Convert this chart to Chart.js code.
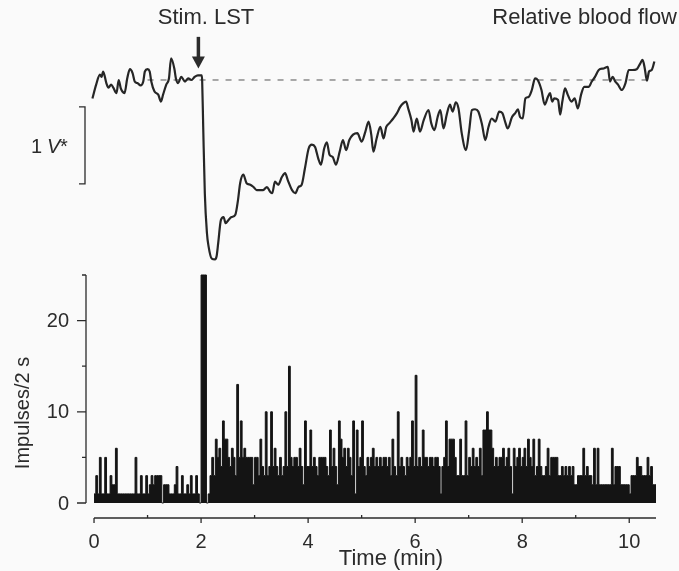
<!DOCTYPE html>
<html>
<head>
<meta charset="utf-8">
<script src="https://cdn.jsdelivr.net/npm/chart.js@4"></script>
<style>
  html, body { margin: 0; padding: 0; background: #fafafa; }
  #grafico { display: block; }
</style>
</head>
<body>
<canvas id="grafico" width="679" height="571"></canvas>
<script>
// ==========================================
// DATA
// ==========================================

// relative blood flow trace: time (min) and level (V*, 0 = dashed pre-stim baseline)
const flowTime = [
  -0.03, 0.04, 0.11, 0.14, 0.17, 0.23, 0.27, 0.32, 0.36, 0.42,
  0.46, 0.50, 0.53, 0.57, 0.62, 0.67, 0.72, 0.76, 0.81, 0.87,
  0.92, 0.95, 1.00, 1.04, 1.07, 1.13, 1.20, 1.25, 1.29, 1.35,
  1.40, 1.44, 1.50, 1.53, 1.57, 1.63, 1.70, 1.76, 1.82, 1.88,
  1.94, 2.01, 2.02, 2.04, 2.07, 2.11, 2.14, 2.20, 2.26, 2.29,
  2.32, 2.37, 2.42, 2.46, 2.51, 2.57, 2.64, 2.69, 2.73, 2.79,
  2.85, 2.92, 2.98, 3.04, 3.10, 3.16, 3.23, 3.29, 3.33, 3.38,
  3.44, 3.51, 3.57, 3.62, 3.70, 3.76, 3.82, 3.88, 3.94, 4.01,
  4.07, 4.13, 4.19, 4.24, 4.30, 4.35, 4.40, 4.46, 4.52, 4.59,
  4.65, 4.71, 4.77, 4.84, 4.92, 5.00, 5.07, 5.13, 5.18, 5.22,
  5.28, 5.35, 5.41, 5.46, 5.52, 5.59, 5.66, 5.72, 5.78, 5.83,
  5.87, 5.93, 5.97, 6.03, 6.09, 6.16, 6.25, 6.30, 6.36, 6.42,
  6.47, 6.53, 6.59, 6.65, 6.70, 6.76, 6.81, 6.87, 6.95, 7.01,
  7.06, 7.12, 7.18, 7.25, 7.31, 7.37, 7.43, 7.50, 7.57, 7.63,
  7.68, 7.73, 7.81, 7.87, 7.92, 7.96, 8.01, 8.06, 8.12, 8.18,
  8.24, 8.29, 8.36, 8.42, 8.48, 8.52, 8.56, 8.60, 8.67, 8.71,
  8.75, 8.80, 8.85, 8.92, 8.98, 9.04, 9.10, 9.16, 9.24, 9.30,
  9.36, 9.43, 9.52, 9.60, 9.64, 9.69, 9.74, 9.79, 9.86, 9.93,
  9.99, 10.06, 10.14, 10.21, 10.25, 10.29, 10.33, 10.37, 10.42, 10.47
];
const flowRel = [
  -0.24, -0.06, 0.07, 0.04, 0.11, -0.04, -0.10, -0.06, -0.10, -0.17,
  0.00, -0.11, -0.15, -0.17, 0.02, 0.14, 0.09, -0.02, -0.04, -0.07,
  -0.02, 0.11, 0.14, 0.11, -0.02, -0.15, -0.19, -0.28, -0.19, -0.06,
  0.02, 0.28, 0.15, 0.02, -0.04, 0.04, -0.02, 0.02, 0.00, 0.04,
  0.06, 0.06, 0.00, -0.61, -1.47, -1.99, -2.16, -2.32, -2.33, -2.29,
  -2.12, -1.82, -1.78, -1.86, -1.82, -1.78, -1.75, -1.56, -1.34, -1.23,
  -1.34, -1.36, -1.39, -1.43, -1.43, -1.43, -1.39, -1.45, -1.47, -1.32,
  -1.36, -1.26, -1.21, -1.30, -1.43, -1.47, -1.39, -1.36, -1.15, -0.89,
  -0.84, -0.87, -1.02, -1.10, -0.89, -0.81, -0.97, -1.00, -1.10, -0.93,
  -0.78, -0.91, -0.78, -0.71, -0.69, -0.80, -0.67, -0.54, -0.71, -0.93,
  -0.76, -0.61, -0.76, -0.61, -0.56, -0.50, -0.43, -0.35, -0.30, -0.28,
  -0.37, -0.52, -0.67, -0.50, -0.67, -0.52, -0.39, -0.56, -0.65, -0.48,
  -0.39, -0.63, -0.45, -0.32, -0.41, -0.29, -0.37, -0.69, -0.91, -0.65,
  -0.39, -0.38, -0.41, -0.58, -0.78, -0.61, -0.50, -0.54, -0.41, -0.43,
  -0.54, -0.63, -0.48, -0.43, -0.38, -0.48, -0.50, -0.24, -0.22, -0.13,
  0.02, 0.00, -0.13, -0.32, -0.22, -0.17, -0.28, -0.24, -0.26, -0.45,
  -0.28, -0.11, -0.19, -0.28, -0.24, -0.37, -0.19, -0.09, -0.09, -0.02,
  0.04, 0.13, 0.15, 0.17, -0.02, 0.04, -0.02, -0.06, -0.13, -0.04,
  0.13, 0.13, 0.14, 0.22, 0.26, 0.15, -0.01, 0.11, 0.13, 0.24
];

// dashed pre-stimulus baseline
const baselineTime = [1.0, 10.45];
const baselineRel = [0, 0];

// impulses per 2 s bin, starting at t = 0
const binMinutes = 2 / 60;
const impulses = [
  1, 3, 1, 5, 1, 1, 5, 1, 1, 3,
  2, 2, 6, 1, 1, 1, 1, 1, 1, 1,
  1, 1, 1, 5, 1, 1, 3, 1, 1, 3,
  1, 2, 3, 2, 3, 3, 3, 3, 0, 2,
  2, 2, 1, 1, 1, 2, 4, 1, 1, 3,
  1, 1, 2, 1, 3, 1, 1, 3, 1, 0,
  25, 25, 25, 0, 1, 3, 5, 3, 7, 5,
  6, 4, 9, 7, 7, 5, 4, 6, 5, 3,
  13, 5, 9, 5, 6, 5, 5, 5, 5, 2,
  5, 5, 3, 7, 4, 3, 10, 3, 4, 10,
  4, 6, 4, 3, 5, 3, 4, 10, 4, 15,
  5, 4, 5, 5, 4, 6, 4, 2, 9, 4,
  4, 8, 4, 5, 4, 3, 5, 5, 5, 5,
  4, 3, 8, 4, 6, 4, 2, 9, 7, 5,
  6, 4, 6, 5, 3, 9, 1, 8, 4, 5,
  9, 4, 3, 5, 4, 5, 6, 4, 5, 4,
  5, 4, 5, 5, 4, 5, 3, 7, 4, 3,
  10, 4, 5, 4, 3, 5, 4, 5, 9, 4,
  14, 4, 5, 4, 8, 5, 5, 4, 5, 5,
  4, 5, 5, 4, 1, 4, 5, 9, 4, 7,
  7, 7, 5, 3, 3, 7, 3, 3, 9, 3,
  5, 4, 6, 4, 5, 4, 6, 3, 8, 8,
  10, 8, 8, 6, 4, 5, 4, 5, 5, 6,
  4, 5, 6, 4, 1, 6, 4, 5, 6, 4,
  5, 6, 4, 7, 5, 4, 7, 3, 4, 7,
  4, 3, 3, 4, 6, 3, 5, 5, 5, 5,
  3, 3, 4, 3, 4, 3, 4, 3, 4, 2,
  2, 3, 3, 3, 6, 3, 4, 3, 3, 2,
  6, 2, 6, 2, 2, 2, 2, 2, 2, 2,
  6, 2, 4, 4, 4, 2, 2, 2, 2, 2,
  1, 3, 3, 3, 5, 4, 4, 3, 3, 3,
  5, 3, 4, 2, 2
];

// axis ticks
const timeTicks = [0, 2, 4, 6, 8, 10];
const timeMinorTicks = [1, 3, 5, 7, 9];
const timeAxisEnd = 10.5;
const impulseTicks = [0, 10, 20];
const impulseMinorTicks = [5, 15, 25];
const scaleBar = [-0.35, -1.35];   // 1 V*
const stimAt = 1.95;               // min
const arrowFrom = 0.56, arrowTo = 0.15;

// ==========================================
// CHART
// ==========================================
const tinta = '#2b2b2b';
const fuente = '"Liberation Sans", Arial, sans-serif';

const histPuntos = impulses.map((v, i) => ({ x: i * binMinutes, y: v }));
histPuntos.push({ x: impulses.length * binMinutes, y: impulses[impulses.length - 1] });

const flujoPuntos = flowTime.map((t, i) => ({ x: t, y: flowRel[i] }));
const basePuntos = baselineTime.map((t, i) => ({ x: t, y: baselineRel[i] }));

// axes, scale bar, arrow and labels
const decoracion = {
  id: 'decoracion',
  afterDraw(chart) {
    const { ctx, chartArea, scales } = chart;
    const x = scales.x, y = scales.y, yf = scales.yf;
    ctx.save();
    ctx.strokeStyle = tinta;
    ctx.fillStyle = tinta;
    ctx.lineWidth = 1.3;

    // time axis (detached below the histogram)
    const ejeY = chartArea.bottom;
    ctx.beginPath();
    ctx.moveTo(x.getPixelForValue(0), ejeY);
    ctx.lineTo(x.getPixelForValue(timeAxisEnd), ejeY);
    timeTicks.forEach(t => {
      const px = x.getPixelForValue(t);
      ctx.moveTo(px, ejeY); ctx.lineTo(px, ejeY + 5);
    });
    timeMinorTicks.forEach(t => {
      const px = x.getPixelForValue(t);
      ctx.moveTo(px, ejeY); ctx.lineTo(px, ejeY - 3);
    });
    ctx.stroke();

    // impulses axis
    const ejeX = chartArea.left;
    ctx.beginPath();
    ctx.moveTo(ejeX, y.getPixelForValue(0));
    ctx.lineTo(ejeX, y.getPixelForValue(25));
    impulseTicks.forEach(v => {
      const py = y.getPixelForValue(v);
      ctx.moveTo(ejeX, py); ctx.lineTo(ejeX - 9, py);
    });
    impulseMinorTicks.forEach(v => {
      const py = y.getPixelForValue(v);
      ctx.moveTo(ejeX, py); ctx.lineTo(ejeX - 4, py);
    });
    ctx.stroke();

    // tick labels
    ctx.font = '20px ' + fuente;
    ctx.textAlign = 'center';
    ctx.textBaseline = 'alphabetic';
    timeTicks.forEach(t => ctx.fillText(String(t), x.getPixelForValue(t), ejeY + 30));
    ctx.textAlign = 'right';
    ctx.textBaseline = 'middle';
    impulseTicks.forEach(v => ctx.fillText(String(v), ejeX - 17, y.getPixelForValue(v) + 1));

    // axis titles
    ctx.font = '22px ' + fuente;
    ctx.textAlign = 'center';
    ctx.textBaseline = 'alphabetic';
    ctx.fillText('Time (min)', 391, 565);

    ctx.save();
    ctx.translate(29, 413);
    ctx.rotate(-Math.PI / 2);
    ctx.font = '20px ' + fuente;
    ctx.textBaseline = 'alphabetic';
    ctx.fillText('Impulses/2 s', 0, 0);
    ctx.restore();

    // scale bar 1 V*
    const barX = chartArea.left - 1;
    const b1 = yf.getPixelForValue(scaleBar[0]);
    const b2 = yf.getPixelForValue(scaleBar[1]);
    ctx.beginPath();
    ctx.moveTo(barX - 6, b1); ctx.lineTo(barX, b1);
    ctx.lineTo(barX, b2); ctx.lineTo(barX - 6, b2);
    ctx.stroke();
    ctx.font = '20px ' + fuente;
    ctx.textAlign = 'left';
    ctx.fillText('1', 31, 153);
    ctx.font = 'italic 20px ' + fuente;
    ctx.fillText('V', 47, 153);
    ctx.font = '20px ' + fuente;
    ctx.fillText('*', 60, 153);

    // stimulus arrow
    const ax = x.getPixelForValue(stimAt);
    const a1 = yf.getPixelForValue(arrowFrom);
    const a2 = yf.getPixelForValue(arrowTo);
    ctx.lineWidth = 3.5;
    ctx.beginPath();
    ctx.moveTo(ax, a1); ctx.lineTo(ax, a2 - 8);
    ctx.stroke();
    ctx.beginPath();
    ctx.moveTo(ax - 6.5, a2 - 12);
    ctx.lineTo(ax + 6.5, a2 - 12);
    ctx.lineTo(ax, a2);
    ctx.closePath();
    ctx.fill();

    // panel labels
    ctx.font = '22px ' + fuente;
    ctx.textAlign = 'center';
    ctx.fillText('Stim. LST', 206, 24);
    ctx.textAlign = 'right';
    ctx.fillText('Relative blood flow', 677, 24);

    ctx.restore();
  }
};

new Chart(document.getElementById('grafico'), {
  type: 'line',
  data: {
    datasets: [
      {
        label: 'Impulses/2 s',
        data: histPuntos,
        yAxisID: 'y',
        stepped: true,
        fill: 'origin',
        backgroundColor: '#141414',
        borderColor: '#141414',
        borderWidth: 1,
        pointRadius: 0
      },
      {
        label: 'Relative blood flow',
        data: flujoPuntos,
        yAxisID: 'yf',
        borderColor: '#262626',
        borderWidth: 2.2,
        cubicInterpolationMode: 'monotone',
        pointRadius: 0,
        fill: false
      },
      {
        label: 'Baseline',
        data: basePuntos,
        yAxisID: 'yf',
        borderColor: '#555',
        borderWidth: 1,
        borderDash: [6, 7],
        pointRadius: 0,
        fill: false
      }
    ]
  },
  options: {
    responsive: false,
    animation: false,
    devicePixelRatio: 1,
    layout: { padding: { left: 86, right: 23, top: 20, bottom: 53 } },
    plugins: { legend: { display: false }, tooltip: { enabled: false } },
    scales: {
      x: { type: 'linear', min: -0.15, max: 10.5, display: false },
      y: { type: 'linear', min: -1.645, max: 52.96, display: false },
      yf: { type: 'linear', min: -5.688, max: 0.779, display: false }
    }
  },
  plugins: [decoracion]
});
</script>
</body>
</html>
